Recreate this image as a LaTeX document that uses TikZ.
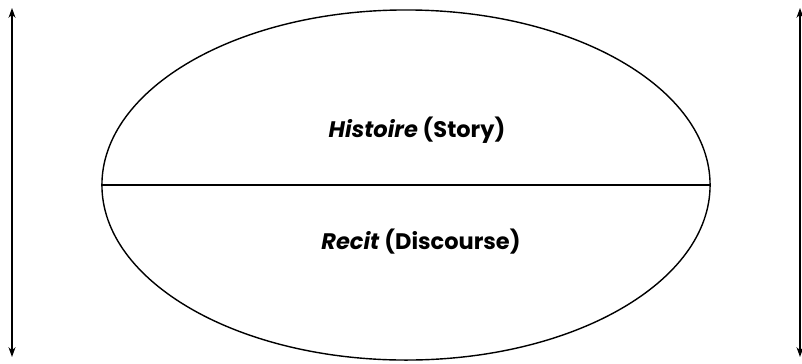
\documentclass[tikz,border=0pt]{standalone}
\usepackage{fontspec}
\setmainfont{Poppins}
\usetikzlibrary{arrows.meta,positioning,shapes.geometric}

\begin{document}
\begin{tikzpicture}[x=0.025cm, y=-0.025cm,
  every node/.style={font=\fontsize{16}{19}\selectfont\bfseries},
  span/.style={{Stealth[length=7pt,width=5pt]}-{Stealth[length=7pt,width=5pt]}, line width=1pt}]
\useasboundingbox (0,0) rectangle (802,363);
\node[ellipse, draw, line width=1pt, inner sep=0pt, minimum width=15.2cm, minimum height=8.75cm] (plot) at (406,185) {};
\draw[line width=0.9pt] (plot.west) -- (plot.east);
\node (histoire) at (417,130) {\textit{Histoire} (Story)};
\node (recit) at (421,242) {\textit{Recit} (Discourse)};
\coordinate (lt) at (12,8);
\coordinate (lb) at (12,357);
\coordinate (rt) at (800,8);
\coordinate (rb) at (800,357);
\draw[span] (lt) -- (lb);
\draw[span] (rt) -- (rb);
\end{tikzpicture}
\end{document}
